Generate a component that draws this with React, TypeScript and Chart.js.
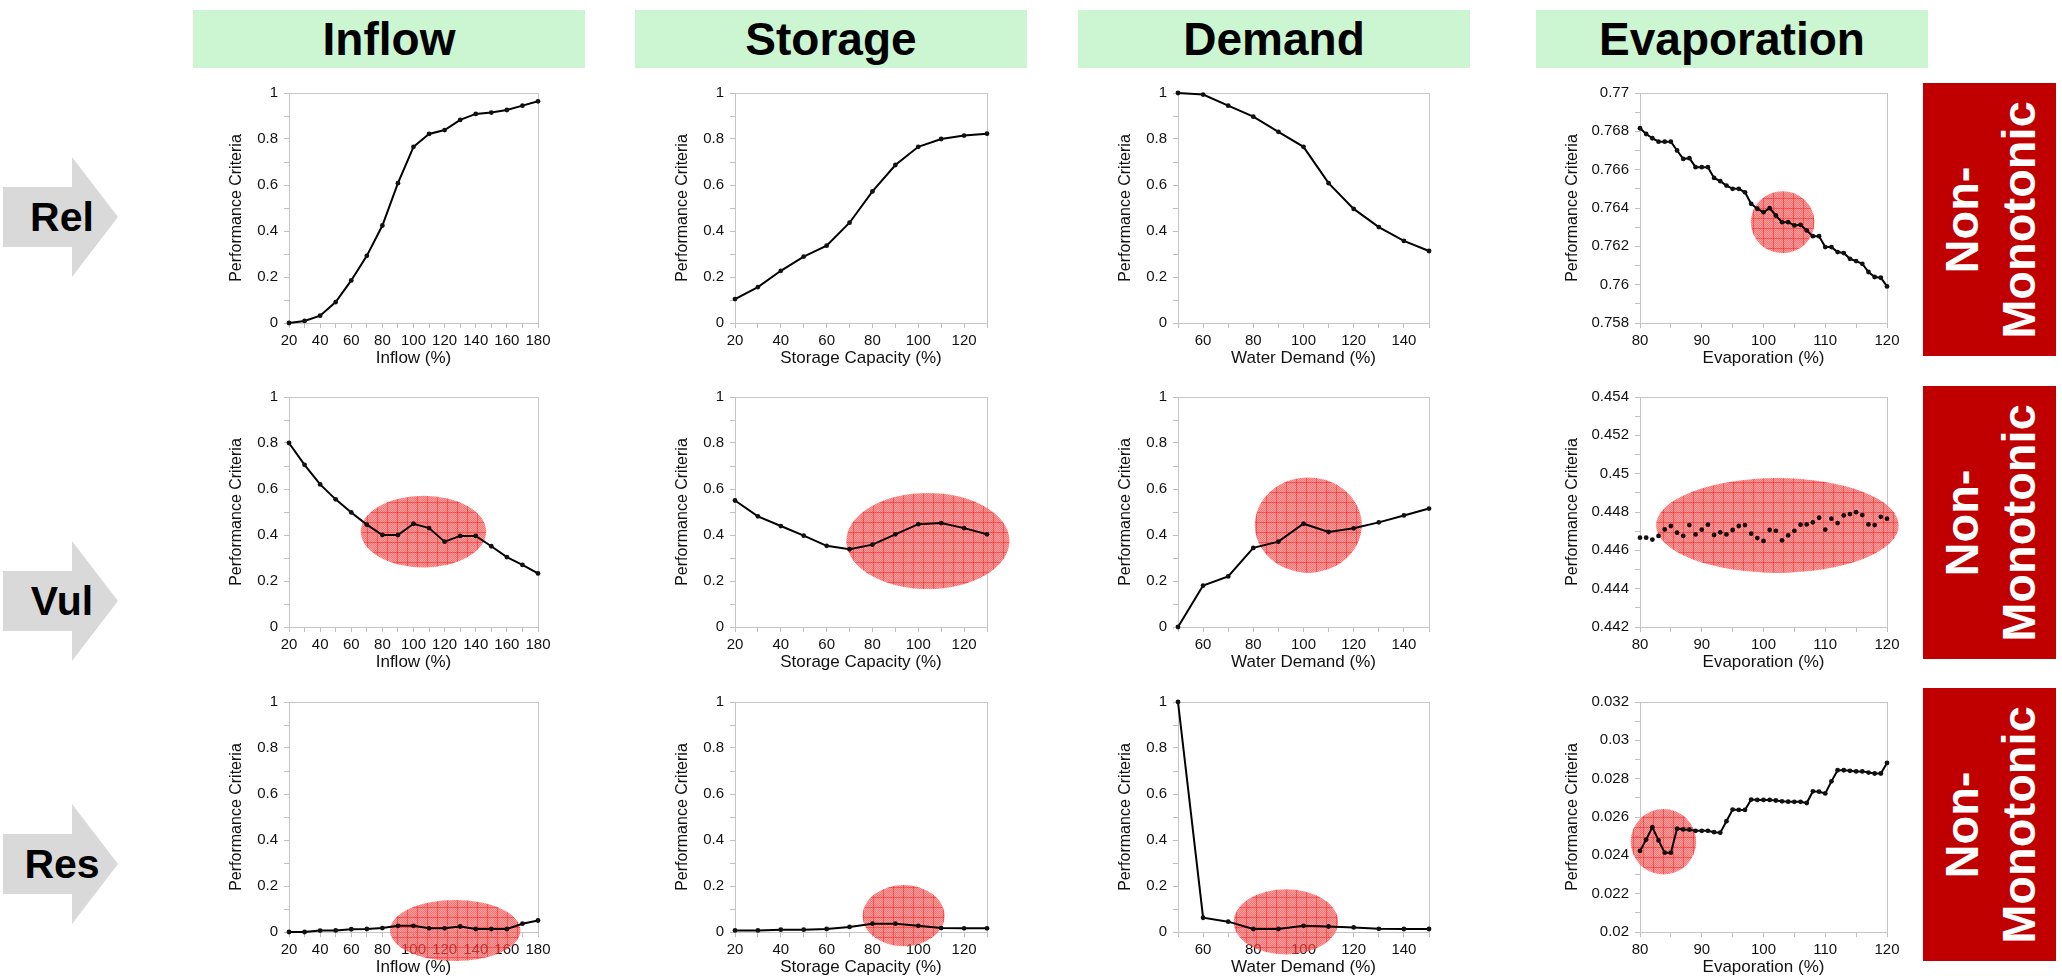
import React, { useEffect, useRef } from 'react';
import { Chart, registerables } from 'chart.js';
Chart.register(...registerables);

const FONT = '"Liberation Sans", Arial, Helvetica, sans-serif';

// ---------- data ----------
const inflowX = [20, 30, 40, 50, 60, 70, 80, 90, 100, 110, 120, 130, 140, 150, 160, 170, 180];
const storageX = [20, 30, 40, 50, 60, 70, 80, 90, 100, 110, 120, 130];
const demandX = [50, 60, 70, 80, 90, 100, 110, 120, 130, 140, 150];
const evapX = [80, 81, 82, 83, 84, 85, 86, 87, 88, 89, 90, 91, 92, 93, 94, 95, 96, 97, 98, 99, 100,
  101, 102, 103, 104, 105, 106, 107, 108, 109, 110, 111, 112, 113, 114, 115, 116, 117, 118, 119, 120];

const relInflow = [0.000, 0.009, 0.032, 0.091, 0.185, 0.292, 0.424, 0.608, 0.766, 0.822, 0.839, 0.883, 0.909, 0.915, 0.926, 0.945, 0.964];
const relStorage = [0.104, 0.156, 0.227, 0.289, 0.336, 0.436, 0.572, 0.687, 0.766, 0.800, 0.815, 0.823];
const relDemand = [1.000, 0.993, 0.945, 0.897, 0.831, 0.766, 0.608, 0.496, 0.417, 0.357, 0.313];
const relEvap = [0.76816, 0.76786, 0.76764, 0.76746, 0.76746, 0.76746, 0.76700, 0.76656, 0.76660, 0.76613,
  0.76613, 0.76613, 0.76557, 0.76540, 0.76517, 0.76500, 0.76500, 0.76482, 0.76422, 0.76396,
  0.76378, 0.76399, 0.76361, 0.76326, 0.76326, 0.76309, 0.76312, 0.76283, 0.76253, 0.76253,
  0.76196, 0.76196, 0.76170, 0.76165, 0.76135, 0.76123, 0.76109, 0.76066, 0.76040, 0.76036, 0.75991];

const vulInflow = [0.800, 0.705, 0.620, 0.555, 0.498, 0.445, 0.400, 0.400, 0.449, 0.430, 0.371, 0.396, 0.396, 0.351, 0.304, 0.270, 0.233];
const vulStorage = [0.550, 0.481, 0.439, 0.397, 0.353, 0.338, 0.358, 0.403, 0.447, 0.452, 0.430, 0.403];
const vulDemand = [0.000, 0.180, 0.220, 0.344, 0.371, 0.449, 0.413, 0.429, 0.455, 0.485, 0.515];
const vulEvap = [0.44666, 0.44666, 0.44656, 0.44675, 0.44709, 0.44727, 0.44692, 0.44675, 0.44732, 0.44683,
  0.44708, 0.44734, 0.44680, 0.44694, 0.44683, 0.44706, 0.44727, 0.44732, 0.44687, 0.44664,
  0.44649, 0.44706, 0.44702, 0.44652, 0.44678, 0.44702, 0.44734, 0.44735, 0.44746, 0.44770,
  0.44708, 0.44765, 0.44742, 0.44782, 0.44789, 0.44799, 0.44784, 0.44735, 0.44732, 0.44775, 0.44765];

const resInflow = [0.000, 0.000, 0.006, 0.007, 0.012, 0.013, 0.017, 0.027, 0.027, 0.016, 0.016, 0.024, 0.013, 0.013, 0.013, 0.036, 0.050];
const resStorage = [0.007, 0.007, 0.010, 0.010, 0.013, 0.022, 0.036, 0.036, 0.027, 0.017, 0.016, 0.016];
const resDemand = [1.000, 0.062, 0.045, 0.013, 0.013, 0.027, 0.024, 0.020, 0.014, 0.013, 0.013];
const resEvap = [0.02423, 0.02482, 0.02547, 0.02478, 0.02414, 0.02414, 0.02539, 0.02535, 0.02534, 0.02528,
  0.02528, 0.02528, 0.02521, 0.02518, 0.02578, 0.02639, 0.02637, 0.02637, 0.02691, 0.02689,
  0.02689, 0.02689, 0.02686, 0.02682, 0.02680, 0.02679, 0.02679, 0.02673, 0.02734, 0.02732,
  0.02723, 0.02786, 0.02844, 0.02844, 0.02841, 0.02838, 0.02838, 0.02832, 0.02827, 0.02827, 0.02882];

// highlighted (non-monotonic) regions in data units: [centerX, centerY, radiusX, radiusY]
const hlRelEvap = [103.1, 0.76326, 5.15, 0.00162];
const hlVulInflow = [106.4, 0.415, 40.3, 0.156];
const hlVulStorage = [104.2, 0.374, 35.6, 0.209];
const hlVulDemand = [101.9, 0.443, 21.3, 0.207];
const hlVulEvap = [102.25, 0.4473, 19.65, 0.00247];
const hlResInflow = [126.8, 0.0065, 41.9, 0.133];
const hlResStorage = [93.6, 0.071, 17.9, 0.133];
const hlResDemand = [93.0, 0.044, 20.8, 0.142];
const hlResEvap = [83.8, 0.02471, 5.3, 0.00171];

const headers = ['Inflow', 'Storage', 'Demand', 'Evaporation'];
const rowLabels = ['Rel', 'Vul', 'Res'];
const xTitles = ['Inflow (%)', 'Storage Capacity (%)', 'Water Demand (%)', 'Evaporation (%)'];
const yTitle = 'Performance Criteria';

// ---------- layout ----------
const COLS = [{ l: 289, r: 538 }, { l: 735, r: 987 }, { l: 1178, r: 1429 }, { l: 1640, r: 1887 }];
const ROWS = [{ t: 92, b: 323 }, { t: 396, b: 627 }, { t: 701, b: 932 }];
const HEADER_BOXES = [193, 635, 1078, 1536];
const ARROW_CENTERS = [217, 601, 864];
const RED_BOXES = [{ t: 83, b: 356 }, { t: 386, b: 659 }, { t: 688, b: 961 }];

type Panel = {
  row: number; col: number; xs: number[]; ys: number[];
  xMin: number; xMax: number; xStep: number; xLab: number;
  yMin: number; yMax: number; yStep: number; yLab: number;
  line: boolean; hl: number[] | null;
};

const xAxes = [
  { xs: inflowX, xMin: 20, xMax: 180, xStep: 10, xLab: 20 },
  { xs: storageX, xMin: 20, xMax: 130, xStep: 10, xLab: 20 },
  { xs: demandX, xMin: 50, xMax: 150, xStep: 10, xLab: 20 },
  { xs: evapX, xMin: 80, xMax: 120, xStep: 5, xLab: 10 },
];
const unitY = { yMin: 0, yMax: 1, yStep: 0.1, yLab: 0.2 };

const panels: Panel[] = [
  { row: 0, col: 0, ...xAxes[0], ys: relInflow, ...unitY, line: true, hl: null },
  { row: 0, col: 1, ...xAxes[1], ys: relStorage, ...unitY, line: true, hl: null },
  { row: 0, col: 2, ...xAxes[2], ys: relDemand, ...unitY, line: true, hl: null },
  { row: 0, col: 3, ...xAxes[3], ys: relEvap, yMin: 0.758, yMax: 0.77, yStep: 0.001, yLab: 0.002, line: true, hl: hlRelEvap },
  { row: 1, col: 0, ...xAxes[0], ys: vulInflow, ...unitY, line: true, hl: hlVulInflow },
  { row: 1, col: 1, ...xAxes[1], ys: vulStorage, ...unitY, line: true, hl: hlVulStorage },
  { row: 1, col: 2, ...xAxes[2], ys: vulDemand, ...unitY, line: true, hl: hlVulDemand },
  { row: 1, col: 3, ...xAxes[3], ys: vulEvap, yMin: 0.442, yMax: 0.454, yStep: 0.001, yLab: 0.002, line: false, hl: hlVulEvap },
  { row: 2, col: 0, ...xAxes[0], ys: resInflow, ...unitY, line: true, hl: hlResInflow },
  { row: 2, col: 1, ...xAxes[1], ys: resStorage, ...unitY, line: true, hl: hlResStorage },
  { row: 2, col: 2, ...xAxes[2], ys: resDemand, ...unitY, line: true, hl: hlResDemand },
  { row: 2, col: 3, ...xAxes[3], ys: resEvap, yMin: 0.02, yMax: 0.032, yStep: 0.001, yLab: 0.002, line: true, hl: hlResEvap },
];

const PT = 14; // canvas top padding
const PR = 32; // canvas right padding
const XH = 46; // x axis box height
const yw = (col: number) => (col === 3 ? 77 : 62);

let patternCache: CanvasPattern | null = null;
function getPattern(ctx: CanvasRenderingContext2D) {
  if (patternCache) return patternCache;
  const pc = document.createElement('canvas');
  pc.width = 10; pc.height = 10;
  const g = pc.getContext('2d')!;
  g.fillStyle = 'rgba(255,100,100,0.6)';
  g.fillRect(0, 0, 10, 10);
  g.fillStyle = 'rgba(255,20,20,0.35)';
  for (let i = 0; i < 10; i++) for (let j = 0; j < 10; j++) if ((i + j) % 2 === 0) g.fillRect(i, j, 1, 1);
  g.fillStyle = 'rgba(235,0,0,0.4)';
  g.fillRect(0, 0, 10, 1);
  g.fillRect(0, 0, 1, 10);
  patternCache = ctx.createPattern(pc, 'repeat');
  return patternCache;
}

const framePlugin = {
  id: 'frameHl',
  beforeDatasetsDraw(chart: any, _args: any, opts: any) {
    const { ctx, chartArea: a, scales } = chart;
    ctx.save();
    ctx.strokeStyle = '#c6c6c6';
    ctx.lineWidth = 1;
    ctx.strokeRect(Math.round(a.left) + 0.5, Math.round(a.top) + 0.5, Math.round(a.right - a.left), Math.round(a.bottom - a.top));
    const h = opts && opts.hl;
    if (h) {
      const cx = scales.x.getPixelForValue(h[0]);
      const cy = scales.y.getPixelForValue(h[1]);
      const rx = Math.abs(scales.x.getPixelForValue(h[0] + h[2]) - cx);
      const ry = Math.abs(scales.y.getPixelForValue(h[1] + h[3]) - cy);
      ctx.beginPath();
      ctx.ellipse(cx, cy, rx, ry, 0, 0, Math.PI * 2);
      ctx.fillStyle = getPattern(ctx);
      ctx.fill();
    }
    ctx.restore();
  },
};

const isMultiple = (v: number, step: number) => Math.abs(v / step - Math.round(v / step)) < 1e-6;
const fmt = (v: number) => String(parseFloat(v.toFixed(4)));

function PanelChart({ p }: { p: Panel }) {
  const ref = useRef<HTMLCanvasElement>(null);
  const c = COLS[p.col];
  const r = ROWS[p.row];
  const W = yw(p.col);
  const left = c.l - W;
  const top = r.t - PT;
  const width = W + (c.r - c.l) + PR;
  const height = PT + (r.b - r.t) + XH;

  useEffect(() => {
    const axisColor = '#c0c0c0';
    const chart = new Chart(ref.current!, {
      type: 'line',
      data: {
        datasets: [{
          data: p.xs.map((x, i) => ({ x, y: p.ys[i] })),
          borderColor: '#000',
          backgroundColor: '#000',
          borderWidth: 2,
          pointRadius: 2.4,
          pointBorderWidth: 0,
          pointBackgroundColor: '#111',
          showLine: p.line,
          tension: 0,
          clip: false as any,
        }],
      },
      options: {
        animation: false,
        responsive: false,
        events: [],
        layout: { padding: { top: PT, right: PR, left: 0, bottom: 0 } },
        plugins: {
          legend: { display: false },
          tooltip: { enabled: false },
          frameHl: { hl: p.hl },
        } as any,
        scales: {
          x: {
            type: 'linear',
            min: p.xMin,
            max: p.xMax,
            afterFit: (s: any) => { s.height = XH; },
            border: { display: true, color: axisColor, width: 1 },
            grid: { display: true, drawOnChartArea: false, drawTicks: true, tickLength: 5, color: axisColor },
            ticks: {
              stepSize: p.xStep,
              autoSkip: false,
              maxRotation: 0,
              padding: 4,
              color: '#111',
              font: { family: FONT, size: 15 },
              callback: (v: any) => (isMultiple(Number(v), p.xLab) ? fmt(Number(v)) : ''),
            },
            title: {
              display: true,
              text: xTitles[p.col],
              color: '#111',
              font: { family: FONT, size: 17 },
              padding: 0,
            },
          },
          y: {
            type: 'linear',
            min: p.yMin,
            max: p.yMax,
            afterFit: (s: any) => { s.width = W; },
            border: { display: true, color: axisColor, width: 1 },
            grid: { display: true, drawOnChartArea: false, drawTicks: true, tickLength: 5, color: axisColor },
            ticks: {
              stepSize: p.yStep,
              autoSkip: false,
              padding: 6,
              color: '#111',
              font: { family: FONT, size: 15 },
              callback: (v: any) => (isMultiple(Number(v), p.yLab) ? fmt(Number(v)) : ''),
            },
            title: {
              display: true,
              text: yTitle,
              color: '#111',
              font: { family: FONT, size: 16 },
              padding: 0,
            },
          },
        },
      },
      plugins: [framePlugin as any],
    });
    return () => chart.destroy();
  }, []);

  return (
    <canvas
      ref={ref}
      width={width}
      height={height}
      style={{ position: 'absolute', left, top, width, height }}
    />
  );
}

export default function App() {
  return (
    <div style={{ position: 'absolute', left: 0, top: 0, width: 2062, height: 979, background: '#fff', overflow: 'hidden', fontFamily: FONT }}>
      {headers.map((h, i) => (
        <div key={h} style={{
          position: 'absolute', left: HEADER_BOXES[i], top: 10, width: 392, height: 58,
          background: '#ccf6d2', display: 'flex', alignItems: 'center', justifyContent: 'center',
          fontWeight: 'bold', fontSize: 46, color: '#000',
        }}>{h}</div>
      ))}
      {rowLabels.map((t, i) => (
        <div key={t} style={{
          position: 'absolute', left: 0, top: ARROW_CENTERS[i] - 60, width: 118, height: 120,
          background: '#d9d9d9',
          clipPath: 'polygon(3px 30px, 72px 30px, 72px 0px, 118px 60px, 72px 120px, 72px 90px, 3px 90px)',
          display: 'flex', alignItems: 'center', justifyContent: 'center',
        }}>
          <span style={{ fontWeight: 'bold', fontSize: 41, color: '#000', marginLeft: 6 }}>{t}</span>
        </div>
      ))}
      {RED_BOXES.map((b, i) => (
        <div key={i} style={{
          position: 'absolute', left: 1923, top: b.t, width: 133, height: b.b - b.t,
          background: '#c00000', overflow: 'hidden',
        }}>
          <div style={{
            position: 'absolute', left: '50%', top: '50%', width: 300,
            transform: 'translate(-50%, -50%) rotate(-90deg)',
            color: '#fff', fontWeight: 'bold', fontSize: 47, lineHeight: '57px', textAlign: 'center',
          }}>Non-<br />Monotonic</div>
        </div>
      ))}
      {panels.map((p, i) => <PanelChart key={i} p={p} />)}
    </div>
  );
}
